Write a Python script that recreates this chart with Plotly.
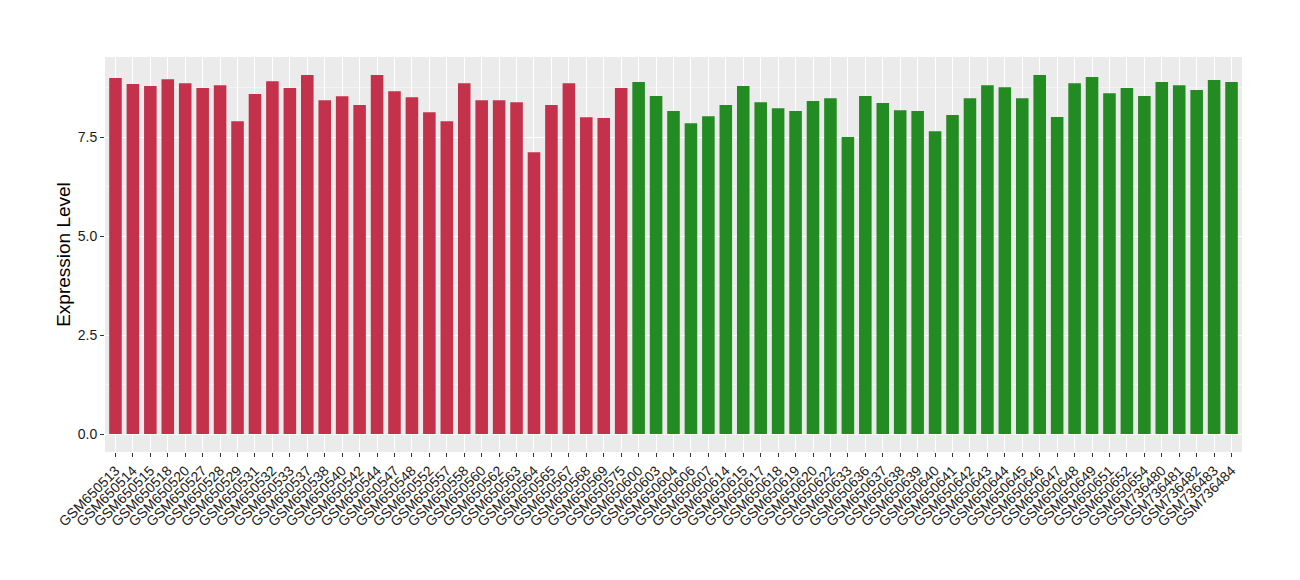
import plotly.graph_objects as go

red_samples = ['GSM650513', 'GSM650514', 'GSM650515', 'GSM650518', 'GSM650520', 'GSM650527',
               'GSM650528', 'GSM650529', 'GSM650531', 'GSM650532', 'GSM650533', 'GSM650537',
               'GSM650538', 'GSM650540', 'GSM650542', 'GSM650544', 'GSM650547', 'GSM650548',
               'GSM650552', 'GSM650557', 'GSM650558', 'GSM650560', 'GSM650562', 'GSM650563',
               'GSM650564', 'GSM650565', 'GSM650567', 'GSM650568', 'GSM650569', 'GSM650575']
red_values = [8.99, 8.84, 8.79, 8.96, 8.86, 8.74, 8.81, 7.90, 8.59, 8.91, 8.74, 9.07,
              8.43, 8.53, 8.31, 9.07, 8.66, 8.51, 8.13, 7.90, 8.86, 8.43, 8.43, 8.38,
              7.12, 8.31, 8.86, 8.00, 7.98, 8.74]

green_samples = ['GSM650600', 'GSM650603', 'GSM650604', 'GSM650606', 'GSM650607', 'GSM650614',
                 'GSM650615', 'GSM650617', 'GSM650618', 'GSM650619', 'GSM650620', 'GSM650622',
                 'GSM650633', 'GSM650636', 'GSM650637', 'GSM650638', 'GSM650639', 'GSM650640',
                 'GSM650641', 'GSM650642', 'GSM650643', 'GSM650644', 'GSM650645', 'GSM650646',
                 'GSM650647', 'GSM650648', 'GSM650649', 'GSM650651', 'GSM650652', 'GSM650654',
                 'GSM736480', 'GSM736481', 'GSM736482', 'GSM736483', 'GSM736484']
green_values = [8.89, 8.54, 8.16, 7.85, 8.03, 8.31, 8.79, 8.38, 8.23, 8.16, 8.41, 8.48,
                7.50, 8.54, 8.36, 8.18, 8.16, 7.65, 8.06, 8.48, 8.81, 8.76, 8.48, 9.07,
                8.01, 8.86, 9.02, 8.61, 8.74, 8.54, 8.89, 8.81, 8.69, 8.94, 8.89]

y_ticks = [0, 2.5, 5.0, 7.5]
y_tick_labels = ['0.0', '2.5', '5.0', '7.5']

fig = go.Figure()

fig.add_trace(go.Bar(x=red_samples, y=red_values, marker=dict(color='#C3314A', line_width=0),
                     width=0.72, showlegend=False))
fig.add_trace(go.Bar(x=green_samples, y=green_values, marker=dict(color='#228B22', line_width=0),
                     width=0.72, showlegend=False))

all_samples = red_samples + green_samples
ymax = max(red_values + green_values)

# page body has an 8px margin, so the plot area is pulled up/left by 8px
fig.update_layout(
    width=1300, height=580,
    paper_bgcolor='white', plot_bgcolor='#EBEBEB',
    margin=dict(l=97, r=66, t=49, b=136, autoexpand=False),
    font=dict(family='Liberation Sans, Arial, sans-serif', color='#1a1a1a'),
    bargap=0.28,
)

fig.update_xaxes(
    type='category', categoryorder='array', categoryarray=all_samples,
    range=[-0.6, len(all_samples) - 0.4], automargin=False,
    tickangle=-45, tickfont=dict(size=14, color='#1a1a1a'),
    ticks='outside', ticklen=4, tickcolor='#333333',
    showgrid=True, gridcolor='white', gridwidth=1.1,
    zeroline=False, showline=False,
)

fig.update_yaxes(
    range=[-0.05 * ymax, ymax * 1.05], automargin=False,
    tickvals=y_ticks, ticktext=y_tick_labels,
    tickfont=dict(size=14, color='#1a1a1a'),
    ticks='outside', ticklen=4, tickcolor='#333333',
    showgrid=True, gridcolor='white', gridwidth=1.1,
    minor=dict(tickvals=[1.25, 3.75, 6.25, 8.75], showgrid=True, gridcolor='#F5F5F5', gridwidth=0.6),
    zeroline=False, showline=False,
    title=dict(text='Expression Level', font=dict(size=19, color='black'), standoff=2),
)

fig.write_html("out.html")
